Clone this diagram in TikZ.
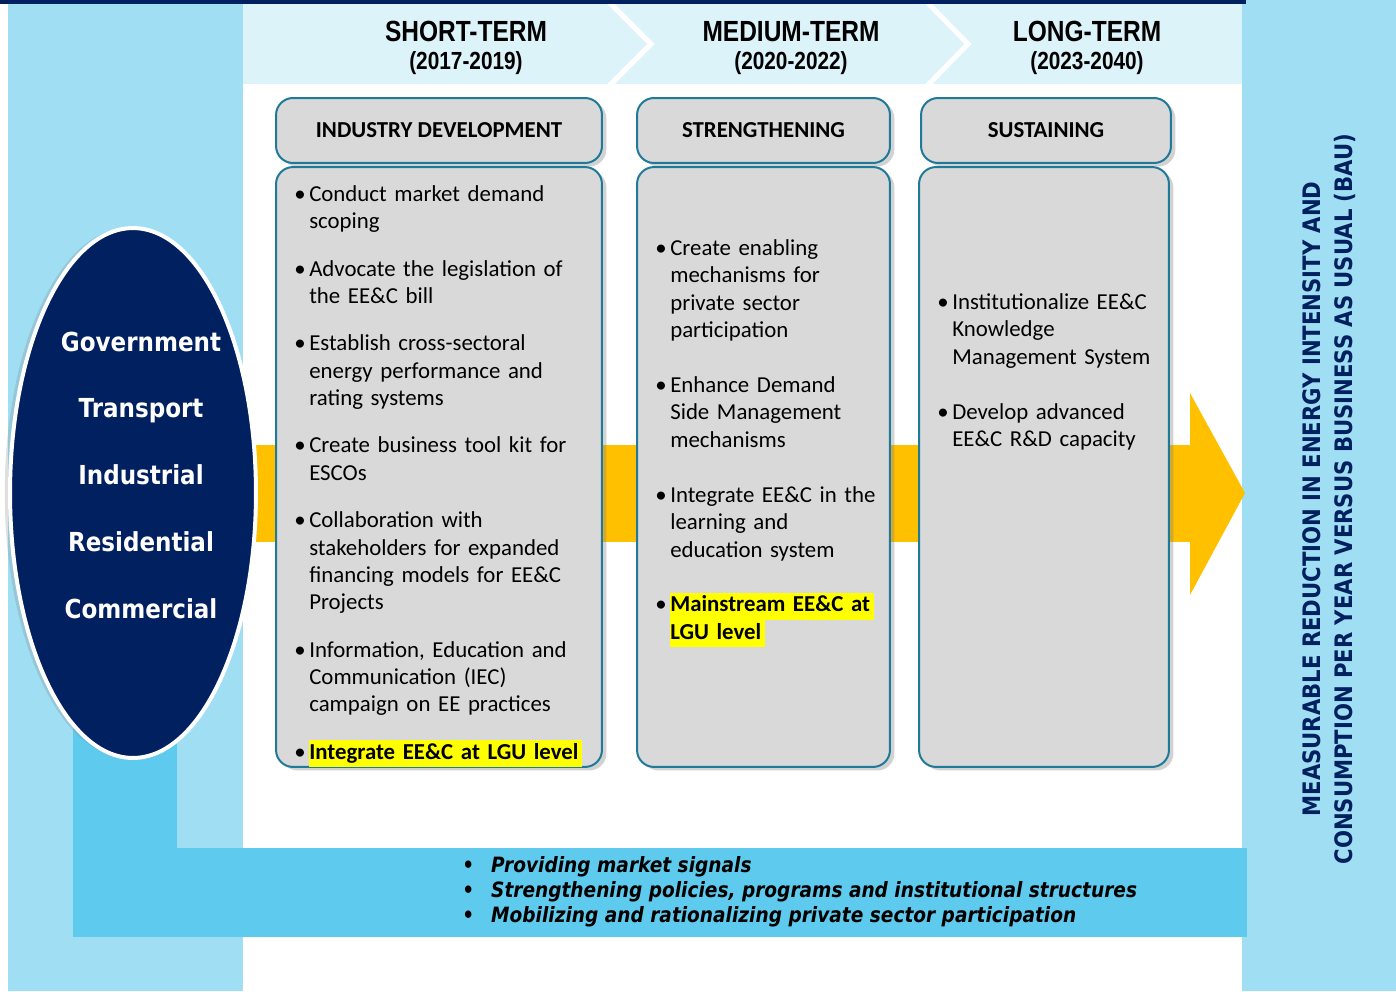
\documentclass[tikz,border=0pt]{standalone}
\usepackage{fontspec}
\setmainfont{Carlito}
\newfontfamily\termfont[FakeStretch=0.84]{Liberation Sans}
\newfontfamily\tahfont[FakeStretch=0.88]{DejaVu Sans}
\usetikzlibrary{shapes.geometric, shadows}

\definecolor{navy}{HTML}{002060}
\definecolor{skyband}{HTML}{A0DFF3}
\definecolor{paleband}{HTML}{DDF3FA}
\definecolor{midblue}{HTML}{5ECBEE}
\definecolor{gold}{HTML}{FFC000}
\definecolor{boxgray}{HTML}{D9D9D9}
\definecolor{boxedge}{HTML}{1F7A99}
\definecolor{hilite}{HTML}{FFFF00}

\newlength{\itemgap}
\newcommand{\firstitem}{\hangindent=8.5pt\hangafter=1\noindent\strut\hbox to 8.5pt{\textbullet\hss}}
\newcommand{\bitem}{\par\vspace{\itemgap}\firstitem}
\newcommand{\hlt}[1]{{\setlength{\fboxsep}{0pt}\colorbox{hilite}{\strut\bfseries #1\hspace{2pt}}}}
\newcommand{\yr}[1]{{\fontsize{14.1}{15.9}\selectfont #1}}
\newcommand{\lever}{\makebox[16.4pt][l]{\upshape\textbullet}}

\tikzstyle{hdrbox} = [rectangle, rounded corners=0.34cm, minimum height=1.3cm, draw=boxedge, line width=0.04cm, fill=boxgray, drop shadow={shadow xshift=2.5pt, shadow yshift=-2pt, opacity=0.35}, font=\bfseries\fontsize{13}{15.6}\selectfont]
\tikzstyle{bodybox} = [rectangle, rounded corners=0.34cm, minimum height=12cm, draw=boxedge, line width=0.04cm, fill=boxgray, drop shadow={shadow xshift=2.5pt, shadow yshift=-2pt, opacity=0.35}]
\tikzstyle{bullets} = [anchor=north west, inner sep=0pt, align=left, font=\fontsize{13}{15.6}\selectfont]
\tikzstyle{term} = [align=center, font=\termfont\bfseries\fontsize{16.6}{15.9}\selectfont]

\begin{document}
\begin{tikzpicture}[x=0.02cm, y=-0.02cm]
  \useasboundingbox (0,0) rectangle (1396,991);
  \fill[white] (0,0) rectangle (1396,991);
  \fill[skyband] (8,4) rectangle (243,991);
  \fill[skyband] (1242,0) rectangle (1396,991);

  \fill[paleband] (243,4) rectangle (1242,84);
  \draw[white, line width=0.1cm] (607,0) -- (651,44) -- (607,88);
  \draw[white, line width=0.1cm] (925,0) -- (968,44) -- (925,88);
  \fill[white] (243,84) rectangle (1242,92);
  \fill[navy] (0,0) rectangle (1246,4);

  \fill[midblue] (73,700) rectangle (177,848);
  \fill[midblue] (73,848) rectangle (1247,937);
  \fill[gold] (250,445) rectangle (1191,542);
  \fill[gold] (1190,393) -- (1245,493) -- (1190,595) -- cycle;

  \draw[fill=navy, draw=white, line width=0.08cm, drop shadow={shadow xshift=-3pt, shadow yshift=0pt, opacity=0.25}] (133,493) ellipse [x radius=2.46cm, y radius=5.3cm];
  \node (sectors) [text=white, align=center, font=\tahfont\bfseries\fontsize{14.9}{38}\selectfont] at (141,475) {Government\\Transport\\Industrial\\Residential\\Commercial};

  \node (short) [term] at (466,48) {SHORT-TERM\\\yr{(2017-2019)}};
  \node (medium) [term] at (791,48) {MEDIUM-TERM\\\yr{(2020-2022)}};
  \node (long) [term] at (1087,48) {LONG-TERM\\\yr{(2023-2040)}};

  \node (hdr1) [hdrbox, minimum width=6.52cm] at (439,130.5) {INDUSTRY DEVELOPMENT};
  \node (hdr2) [hdrbox, minimum width=5.06cm] at (763.5,130.5) {STRENGTHENING};
  \node (hdr3) [hdrbox, minimum width=5cm] at (1046,130.5) {SUSTAINING};

  \node (body1) [bodybox, minimum width=6.52cm] at (439,467) {};
  \node (body2) [bodybox, minimum width=5.06cm] at (763.5,467) {};
  \node (body3) [bodybox, minimum width=5cm] at (1044,467) {};

  \node (acts1) [bullets, text width=6.2cm] at (294,182) {\setlength{\itemgap}{11.3pt}%
    \firstitem Conduct market demand\newline scoping
    \bitem Advocate the legislation of\newline the EE\&C bill
    \bitem Establish cross-sectoral\newline energy performance and\newline rating systems
    \bitem Create business tool kit for\newline ESCOs
    \bitem Collaboration with\newline stakeholders for expanded\newline financing models for EE\&C\newline Projects
    \bitem Information, Education and\newline Communication (IEC)\newline campaign on EE practices
    \bitem \hlt{Integrate EE\&C at LGU level}\par};
  \node (acts2) [bullets, text width=5cm] at (655,236) {\setlength{\itemgap}{15.6pt}%
    \firstitem Create enabling\newline mechanisms for\newline private sector\newline participation
    \bitem Enhance Demand\newline Side Management\newline mechanisms
    \bitem Integrate EE\&C in the\newline learning and\newline education system
    \bitem \hlt{Mainstream EE\&C at}\newline\hlt{LGU level}\par};
  \node (acts3) [bullets, text width=4.8cm] at (937,290) {\setlength{\itemgap}{15.6pt}%
    \firstitem Institutionalize EE\&C\newline Knowledge\newline Management System
    \bitem Develop advanced\newline EE\&C R\&D capacity\par};

  \node (levers) [anchor=base west, inner sep=0pt, align=left, font=\tahfont\bfseries\itshape\fontsize{12}{14.2}\selectfont] at (462,922) {\lever Providing market signals\\\lever Strengthening policies, programs and institutional structures\\\lever Mobilizing and rationalizing private sector participation};

  \node (outcome) [rotate=90, align=center, text=navy, font=\tahfont\bfseries\fontsize{13.7}{18.1}\selectfont] at (1329,499) {MEASURABLE REDUCTION IN ENERGY INTENSITY AND\\CONSUMPTION PER YEAR VERSUS BUSINESS AS USUAL (BAU)};
\end{tikzpicture}
\end{document}
